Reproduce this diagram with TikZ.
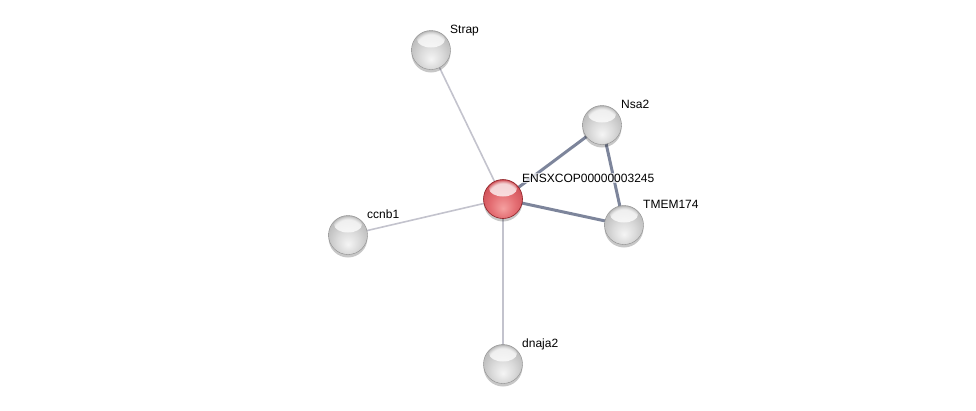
\documentclass[tikz,border=0pt]{standalone}
\usepackage{fontspec}
\setmainfont{Liberation Sans}
\usetikzlibrary{fadings,calc,backgrounds}
\definecolor{ballredlight}{RGB}{245,160,160}
\definecolor{ballredmid}{RGB}{228,110,115}
\definecolor{ballred}{RGB}{200,70,78}
\definecolor{ballreddark}{RGB}{140,30,35}
\definecolor{edgelight}{RGB}{195,195,205}
\definecolor{edgedark}{RGB}{125,133,155}
\pgfdeclareradialshading{greyballsh}{\pgfpoint{0bp}{-12bp}}{color(0bp)=(black!4); color(14bp)=(black!14); color(28bp)=(black!26); color(40bp)=(black!40); color(48bp)=(black!55); color(56bp)=(black!62)}
\pgfdeclareradialshading{redballsh}{\pgfpoint{0bp}{-12bp}}{color(0bp)=(ballredlight); color(16bp)=(ballredmid); color(34bp)=(ballred); color(46bp)=(ballreddark); color(56bp)=(ballreddark)}
\tikzset{
  ball/.style={circle, minimum size=39pt, inner sep=0pt,
    preaction={fill=black, opacity=0.22, transform canvas={yshift=-3pt}},
    path picture={\fill[white, opacity=0.75, path fading=circle with fuzzy edge 20 percent]
      ($(path picture bounding box.north)+(0,9)$) ellipse (14 and 8);}},
  greyball/.style={ball, shading=greyballsh, draw=black!45, line width=0.4pt},
  redball/.style={ball, shading=redballsh, draw=ballreddark, line width=0.6pt},
  lbl/.style={anchor=base west, font=\fontsize{12}{14}\selectfont, fill=white, fill opacity=0.7, text opacity=1, inner sep=1pt},
  weak/.style={draw=edgelight, line width=1.6pt},
  strong/.style={draw=edgedark, line width=3pt}
}
\begin{document}
\begin{tikzpicture}[x=1pt,y=-1pt]
\useasboundingbox (0,0) rectangle (976,410);
\node[redball] (c) at (503,199) {};
\node[greyball] (strap) at (431,50) {};
\node[greyball] (nsa) at (602,125) {};
\node[greyball] (tmem) at (624,225) {};
\node[greyball] (ccnb) at (348,235) {};
\node[greyball] (dnaja) at (503,364) {};
\begin{pgfonlayer}{background}
\draw[weak] (c.center) -- (strap.center);
\draw[weak] (c.center) -- (ccnb.center);
\draw[weak] (c.center) -- (dnaja.center);
\draw[strong] (c.center) -- (nsa.center);
\draw[strong] (c.center) -- (tmem.center);
\draw[strong] (nsa.center) -- (tmem.center);
\end{pgfonlayer}
\node[lbl] (lc) at ($(c)+(18,-17)$) {ENSXCOP00000003245};
\node[lbl] (lstrap) at ($(strap)+(18,-17)$) {Strap};
\node[lbl] (lnsa) at ($(nsa)+(18,-17)$) {Nsa2};
\node[lbl] (ltmem) at ($(tmem)+(18,-17)$) {TMEM174};
\node[lbl] (lccnb) at ($(ccnb)+(18,-17)$) {ccnb1};
\node[lbl] (ldnaja) at ($(dnaja)+(18,-17)$) {dnaja2};
\end{tikzpicture}
\end{document}
